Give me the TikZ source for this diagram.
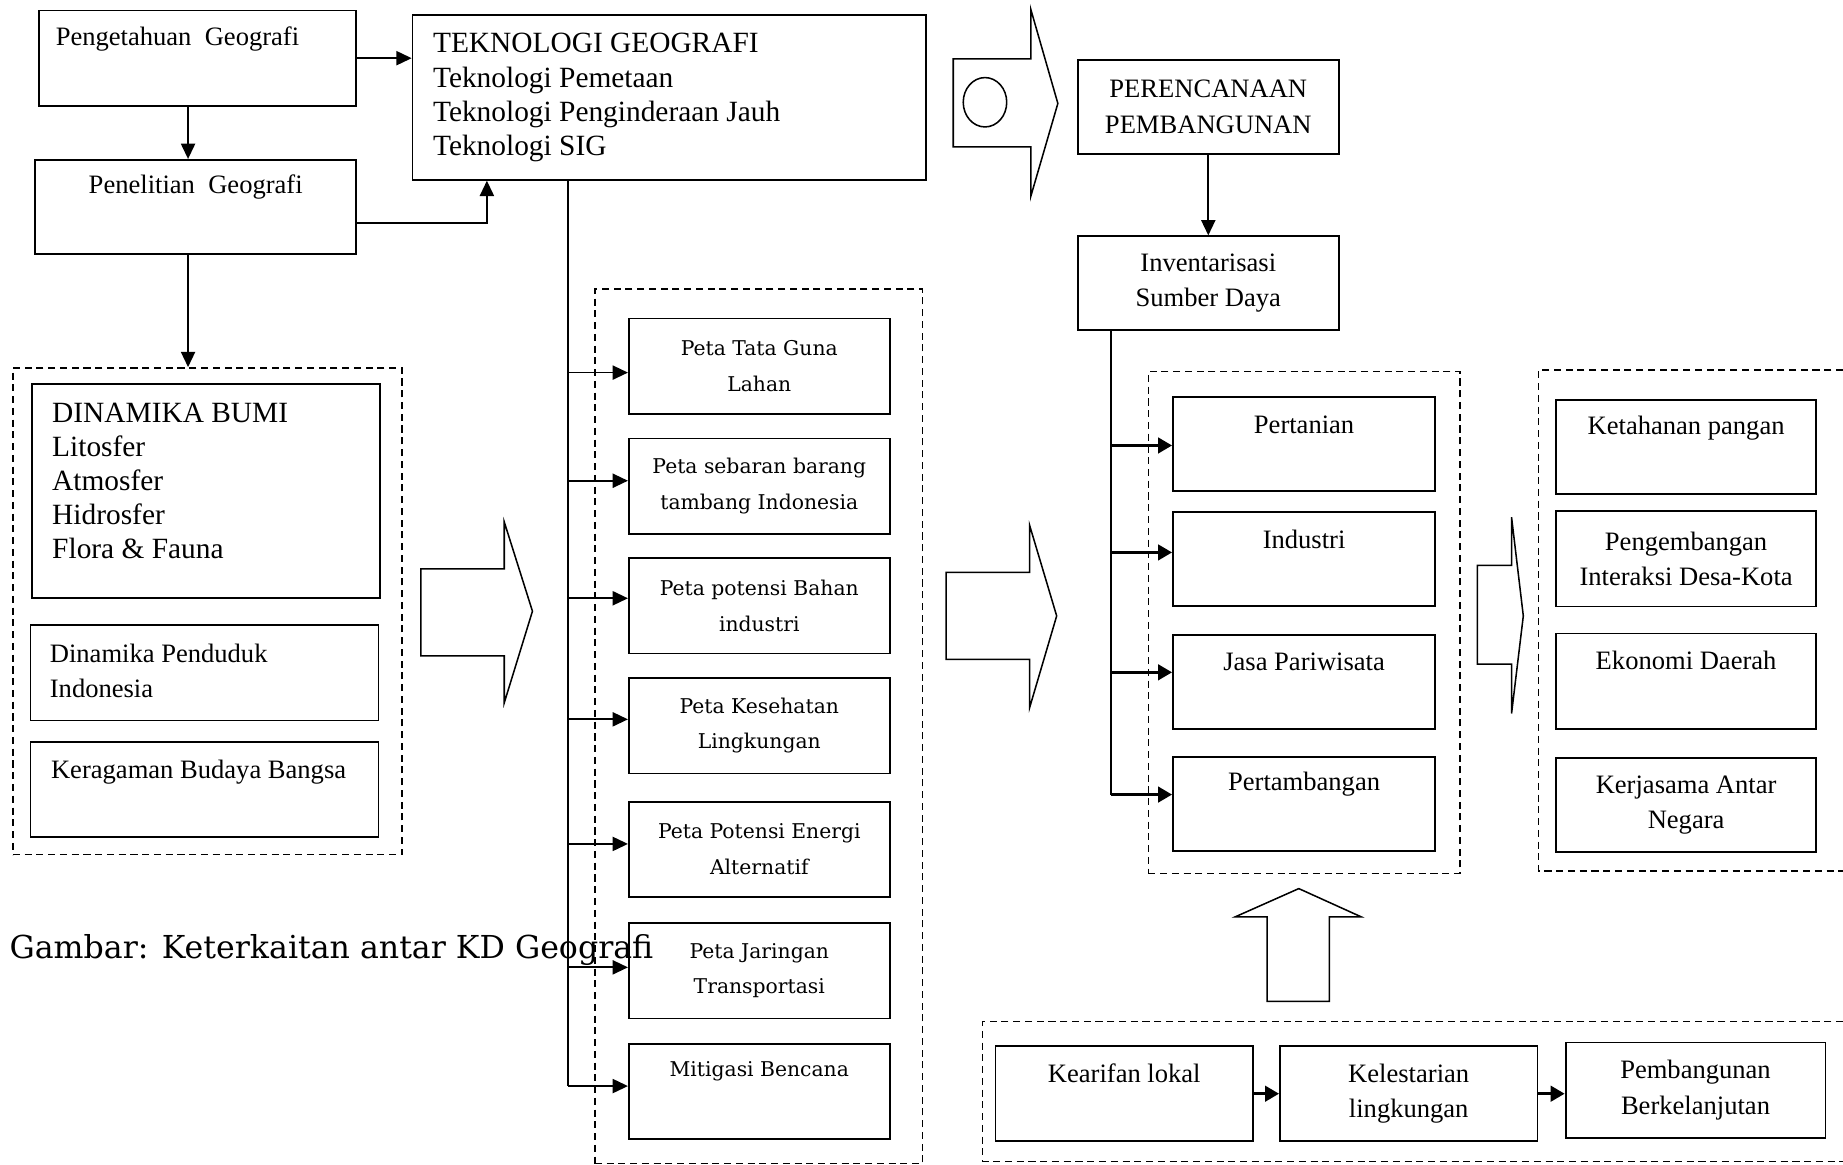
\documentclass[tikz,border=0pt]{standalone}
\usepackage{fontspec}
\setmainfont{Liberation Serif}
\newfontfamily\bookfont{DejaVu Serif}
\usetikzlibrary{arrows.meta}

\tikzset{
  box/.style={draw, line width=1.5pt, inner sep=0pt, minimum width=222pt, minimum height=81pt, align=center, font=\fontsize{22.6}{30}\selectfont},
  txt/.style={inner sep=0pt, align=center, font=\fontsize{22.6}{30}\selectfont},
  bigtxt/.style={inner sep=0pt, align=left, font=\fontsize{25}{29}\selectfont},
  petatxt/.style={font=\bookfont\fontsize{17.3}{30}\selectfont},
  group/.style={draw, line width=1.3pt, dash pattern=on 6pt off 4pt},
  arr/.style={line width=1.5pt, -{Triangle[length=13pt,width=12pt]}},
  boldarr/.style={line width=3pt, -{Triangle[length=12pt,width=13pt]}},
  blockarrow/.style={draw, line width=1.3pt, line join=miter}
}

\begin{document}
\begin{tikzpicture}[x=1pt,y=-1pt]
\useasboundingbox (0,0) rectangle (1568,991);

\node[box, minimum width=270pt, minimum height=81pt] (know) at (168,49.5) {};
\node[txt, anchor=west] (knowtxt) at ([xshift=15pt,yshift=-25pt]know.north west) {Pengetahuan\ \ Geografi};
\node[box, minimum width=273pt, minimum height=80pt] (research) at (166.5,176) {};
\node[txt] (researchtxt) at ([yshift=-24pt]research.north) {Penelitian\ \ Geografi};
\node[box, minimum width=437pt, minimum height=140pt] (tech) at (569.5,83) {};
\node[bigtxt, anchor=west] (techtxt) at ([xshift=18pt]tech.west) {TEKNOLOGI GEOGRAFI\\Teknologi Pemetaan\\Teknologi Penginderaan Jauh\\Teknologi SIG};

\draw[arr] (know.east) -- (know.east -| tech.west);
\draw[arr] ([xshift=-8pt]know.south) -- ([xshift=-8pt]know.south |- research.north);
\draw[arr] ([yshift=-14pt]research.east) -| ([xshift=64pt]tech.south west);

\node[group, minimum width=331pt, minimum height=414pt] (bumigroup) at (176.5,520) {};
\draw[arr] ([xshift=-6.5pt]research.south) -- ([xshift=-6.5pt]research.south |- bumigroup.north);
\node[box, minimum width=296pt, minimum height=182pt] (bumi) at (175,418) {};
\node[bigtxt, anchor=west] (bumitxt) at ([xshift=18pt,yshift=9pt]bumi.west) {DINAMIKA BUMI\\Litosfer\\Atmosfer\\Hidrosfer\\Flora \& Fauna};
\node[box, minimum width=296pt, minimum height=81pt] (penduduk) at (174,572.5) {};
\node[txt, align=left, anchor=west] (penduduktxt) at ([xshift=17pt,yshift=2pt]penduduk.west) {Dinamika Penduduk\\Indonesia};
\node[box, minimum width=296pt, minimum height=81pt] (budaya) at (174,671.5) {};
\node[txt, anchor=west] (budayatxt) at ([xshift=18pt,yshift=-27pt]budaya.north west) {Keragaman Budaya Bangsa};

\draw[blockarrow] (358,484) -- (429,484) -- (429,444) -- (453,520) -- (429,598) -- (429,558) -- (358,558) -- cycle;

\node[group, minimum width=279pt, minimum height=744pt] (petagroup) at (645.5,618) {};
\foreach \i/\y/\lbl in {1/311.5/{Peta Tata Guna\\Lahan}, 2/413.5/{Peta sebaran barang\\tambang Indonesia}, 3/515.5/{Peta potensi Bahan\\industri}, 4/617.5/{Peta Kesehatan\\Lingkungan}, 5/722.5/{Peta Potensi Energi\\Alternatif}, 6/826/{Peta Jaringan\\Transportasi}}
  \node[box, petatxt] (peta\i) at (646,\y) {\lbl};
\node[box] (peta7) at (646,928.5) {};
\node[txt, petatxt] (peta7txt) at ([yshift=-24pt]peta7.north) {Mitigasi Bencana};

\coordinate (bus) at (483,153);
\draw[line width=1.5pt] (tech.south -| bus) -- ([yshift=4.5pt]bus |- peta7.west);
\foreach \i/\dy in {1/-5.5, 2/4.5, 3/6.5, 4/5.5, 5/4.5, 6/3, 7/4.5}
  \draw[arr] ([yshift=\dy pt]bus |- peta\i.west) -- ([yshift=\dy pt]peta\i.west);

\node[anchor=west, inner sep=0pt, font=\bookfont\fontsize{26.9}{30}\selectfont] (caption) at (8,808) {Gambar: Keterkaitan antar KD Geografi};

\draw[blockarrow] (811,50) -- (877,50) -- (877,8) -- (900,88) -- (877,167) -- (877,125) -- (811,125) -- cycle;
\draw[line width=1.3pt] (838,87) ellipse [x radius=18.5pt, y radius=21pt];

\node[box, minimum height=80pt] (plan) at (1028,91) {PERENCANAAN\\PEMBANGUNAN};
\node[box, minimum height=80pt] (inv) at (1028,241) {Inventarisasi\\Sumber Daya};
\draw[arr] (plan.south) -- (inv.north);

\draw[blockarrow] (805,487) -- (876,487) -- (876,447) -- (899,524) -- (876,602) -- (876,561) -- (805,561) -- cycle;

\node[group, minimum width=265pt, minimum height=427pt] (sektorgroup) at (1109.5,529.5) {};
\coordinate (bus2) at (945,281);
\draw[line width=1.5pt] (inv.south -| bus2) -- (bus2 |- 0,676);
\foreach \name/\y/\dy/\lbl in {tani/378/-1/Pertanian, industri/475.5/5.5/Industri, jasa/580/8/Jasa Pariwisata, tambang/684/8/Pertambangan} {
  \node[box, minimum width=223pt, minimum height=80pt] (\name) at (1109.5,\y) {};
  \node[txt] (\name-txt) at ([yshift=-24pt]\name.north) {\lbl};
  \draw[boldarr] ([yshift=\dy pt]bus2 |- \name.west) -- ([yshift=\dy pt]\name.west);
}

\draw[blockarrow] (1257,481) -- (1286,481) -- (1286,440) -- (1296,524) -- (1286,607) -- (1286,565) -- (1257,565) -- cycle;

\draw[group] (1568,315) -- (1309,315) -- (1309,741) -- (1568,741);
\node[box, minimum width=221pt, minimum height=80pt] (pangan) at (1434.5,380) {};
\node[txt] (pangantxt) at ([yshift=-25pt]pangan.north) {Ketahanan pangan};
\node[box, minimum width=221pt] (interaksi) at (1434.5,475.5) {Pengembangan\\Interaksi Desa-Kota};
\node[box, minimum width=221pt] (ekonomi) at (1434.5,579.5) {};
\node[txt] (ekonomitxt) at ([yshift=-24pt]ekonomi.north) {Ekonomi Daerah};
\node[box, minimum width=221pt, minimum height=80pt] (kerjasama) at (1434.5,685) {Kerjasama Antar\\Negara};

\draw[blockarrow] (1105,756) -- (1158,780) -- (1131,780) -- (1131,852) -- (1078,852) -- (1078,780) -- (1051,780) -- cycle;

\draw[group] (1568,869) -- (836,869) -- (836,988) -- (1568,988);
\node[box, minimum width=219pt] (kearifan) at (956.5,930.5) {};
\node[txt] (kearifantxt) at ([yshift=-24pt]kearifan.north) {Kearifan lokal};
\node[box, minimum width=219pt] (lestari) at (1198.5,930.5) {Kelestarian\\lingkungan};
\node[box, minimum width=221pt] (lanjut) at (1442.5,927.5) {Pembangunan\\Berkelanjutan};
\draw[boldarr] (kearifan.east) -- (lestari.west);
\draw[boldarr] (lestari.east) -- (lestari.east -| lanjut.west);
\end{tikzpicture}
\end{document}
